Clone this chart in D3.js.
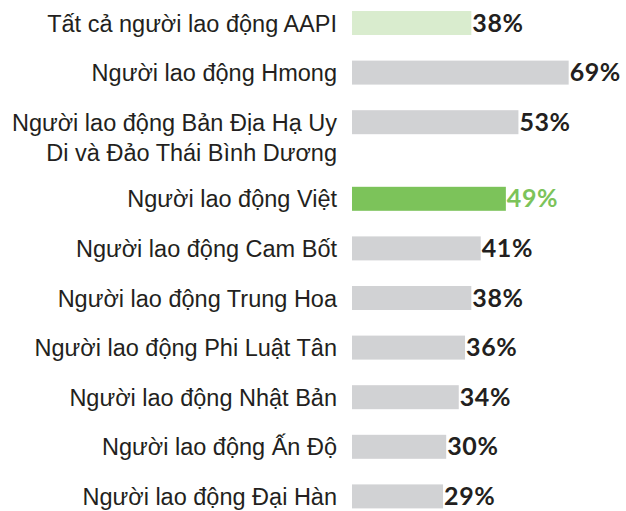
<!DOCTYPE html>
<html>
<head>
<meta charset="utf-8">
<script src="https://cdn.jsdelivr.net/npm/d3@7.9.0/dist/d3.min.js"></script>
<style>
  body { margin: 0; background: #fff; }
  svg { display: block; }
</style>
</head>
<body>
<svg id="chart" width="626" height="511"></svg>
<script>
// Data
const categories = [
  ['Tất cả người lao động AAPI'],
  ['Người lao động Hmong'],
  ['Người lao động Bản Địa Hạ Uy', 'Di và Đảo Thái Bình Dương'],
  ['Người lao động Việt'],
  ['Người lao động Cam Bốt'],
  ['Người lao động Trung Hoa'],
  ['Người lao động Phi Luật Tân'],
  ['Người lao động Nhật Bản'],
  ['Người lao động Ấn Độ'],
  ['Người lao động Đại Hàn']
];
const values = [38, 69, 53, 49, 41, 38, 36, 34, 30, 29];
const kinds = ['all', 'other', 'other', 'viet', 'other', 'other', 'other', 'other', 'other', 'other'];

const barColor = { all: '#d9ecce', other: '#d1d2d4', viet: '#7cc35a' };
const valueColor = { all: '#231f20', other: '#231f20', viet: '#7cc35a' };

const svg = d3.select('#chart');

const x0 = 352;
const x = d3.scaleLinear().domain([0, 100]).range([x0, x0 + 314]);

// Row positions: each row is 49.6px, extra lines add 27px
const rowStep = 49.6, lineExtra = 27, barH = 24, firstTop = 11;
const rowTops = [];
let acc = firstTop;
categories.forEach(lines => {
  rowTops.push(acc);
  acc += rowStep + (lines.length - 1) * lineExtra;
});

const rows = values.map((v, i) => ({
  value: v, lines: categories[i], kind: kinds[i], y: rowTops[i]
}));

const g = svg.selectAll('g.row')
  .data(rows)
  .enter()
  .append('g')
  .attr('class', 'row');

// Bars
g.append('rect')
  .attr('x', x0)
  .attr('y', d => d.y)
  .attr('width', d => x(d.value) - x0)
  .attr('height', barH)
  .attr('fill', d => barColor[d.kind]);

// Category labels
g.append('text')
  .attr('x', 337)
  .attr('y', d => d.y + barH / 2 + 8.5)
  .attr('text-anchor', 'end')
  .attr('fill', '#231f20')
  .style('font-family', 'Liberation Sans, Arial, sans-serif')
  .style('font-size', '23.5px')
  .selectAll('tspan')
  .data(d => d.lines)
  .enter()
  .append('tspan')
  .attr('x', 337)
  .attr('dy', (d, i) => i === 0 ? 0 : 30)
  .text(d => d);

// Value labels
g.append('text')
  .attr('x', d => x(d.value) + 1)
  .attr('y', d => d.y + barH / 2 + 8.5)
  .attr('fill', d => valueColor[d.kind])
  .style('font-family', 'Lato, sans-serif')
  .style('font-weight', 'bold')
  .style('font-size', '25px')
  .style('letter-spacing', '0.6px')
  .text(d => `${d.value}%`);
</script>
</body>
</html>
